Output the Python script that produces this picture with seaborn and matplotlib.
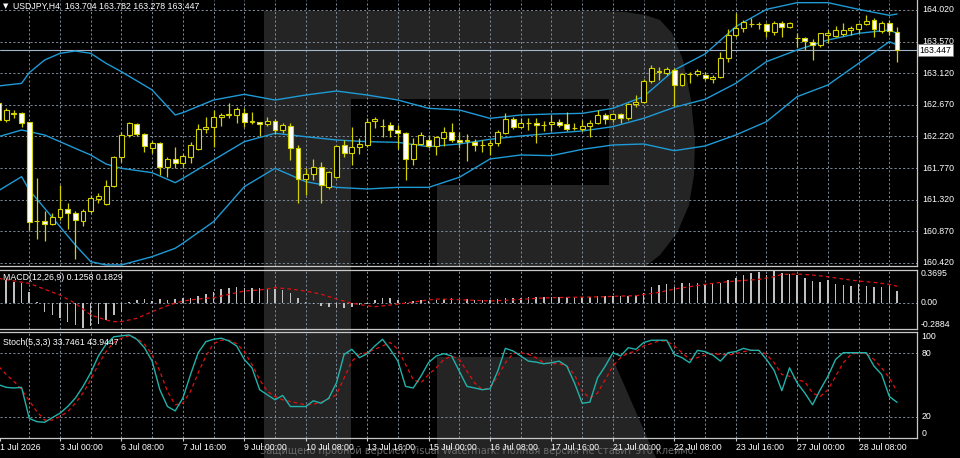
import numpy as np
import pandas as pd
import matplotlib
matplotlib.use('Agg')
import matplotlib.pyplot as plt
from matplotlib.patches import Polygon, Rectangle
import seaborn as sns

sns.set_theme(style='dark')
plt.rcParams['font.family'] = ['Liberation Sans', 'DejaVu Sans']

# ---- candles (H4 bars, bar index 0..117) ----
opens = [162.692, 162.455, 162.540, 162.559, 162.421, 161.017, 161.022, 160.975, 161.079, 161.183,
         161.127, 161.022, 161.164, 161.335, 161.259, 161.515, 161.933, 162.241, 162.398, 162.255,
         162.051, 162.123, 161.781, 161.895, 161.838, 161.933, 162.042, 162.322, 162.360, 162.493,
         162.530, 162.530, 162.559, 162.431, 162.421, 162.398, 162.445, 162.312, 162.369, 162.051,
         161.610, 161.686, 161.781, 161.496, 161.639, 162.094, 161.980, 162.066, 162.099, 162.445,
         162.369, 162.383, 162.312, 162.274, 161.895, 162.113, 162.170, 162.085, 162.203, 162.289,
         162.170, 162.160, 162.146, 162.099, 162.094, 162.132, 162.274, 162.469, 162.350, 162.407,
         162.417, 162.383, 162.398, 162.421, 162.393, 162.336, 162.322, 162.369, 162.407, 162.521,
         162.464, 162.535, 162.478, 162.682, 162.715, 163.014, 163.142, 163.128, 163.166, 162.953,
         163.109, 163.109, 163.095, 163.033, 163.062, 163.332, 163.664, 163.759, 163.821, 163.821,
         163.821, 163.712, 163.840, 163.773, 163.617, 163.617, 163.569, 163.522, 163.664, 163.650,
         163.678, 163.735, 163.745, 163.821, 163.878, 163.726, 163.830, 163.704]
highs = [162.739, 162.621, 162.597, 162.573, 162.431, 161.624, 161.160, 161.127, 161.530, 161.269,
         161.164, 161.183, 161.387, 161.421, 161.601, 161.942, 162.279, 162.431, 162.417, 162.274,
         162.161, 162.146, 161.933, 162.075, 161.971, 162.146, 162.398, 162.493, 162.597, 162.549,
         162.701, 162.635, 162.621, 162.573, 162.421, 162.502, 162.464, 162.407, 162.417, 162.099,
         161.767, 161.895, 161.862, 161.734, 162.099, 162.170, 162.360, 162.194, 162.478, 162.493,
         162.464, 162.421, 162.383, 162.284, 162.194, 162.289, 162.241, 162.227, 162.350, 162.407,
         162.289, 162.255, 162.180, 162.170, 162.170, 162.312, 162.549, 162.502, 162.478, 162.478,
         162.478, 162.445, 162.526, 162.469, 162.573, 162.407, 162.455, 162.455, 162.597, 162.549,
         162.549, 162.549, 162.701, 162.810, 163.033, 163.237, 163.214, 163.214, 163.190, 163.128,
         163.142, 163.175, 163.142, 163.090, 163.427, 163.745, 163.982, 163.878, 163.901, 163.854,
         163.840, 163.868, 163.868, 163.849, 163.688, 163.640, 163.603, 163.697, 163.735, 163.792,
         163.830, 163.792, 163.840, 163.949, 163.901, 163.868, 163.878, 163.782]
lows = [162.431, 162.431, 162.478, 162.360, 160.889, 160.757, 160.738, 160.960, 161.032, 160.899,
        160.472, 160.946, 161.127, 161.269, 161.245, 161.506, 161.862, 162.217, 162.227, 162.004,
        161.990, 161.672, 161.648, 161.767, 161.767, 161.838, 162.028, 162.265, 162.066, 162.369,
        162.478, 162.407, 162.350, 162.398, 162.227, 162.369, 162.255, 162.265, 161.885, 161.269,
        161.387, 161.601, 161.278, 161.468, 161.624, 161.933, 161.814, 161.971, 162.066, 162.336,
        162.217, 162.217, 162.037, 161.601, 161.814, 162.099, 162.051, 161.957, 162.085, 162.146,
        162.051, 161.876, 162.018, 162.004, 161.957, 162.085, 162.255, 162.322, 162.336, 162.312,
        162.123, 162.303, 162.303, 162.360, 162.303, 162.312, 162.303, 162.208, 162.398, 162.398,
        162.431, 162.417, 162.455, 162.644, 162.692, 162.986, 163.024, 163.095, 162.654, 162.938,
        162.986, 163.081, 163.024, 162.976, 163.048, 163.285, 163.640, 163.712, 163.783, 163.745,
        163.631, 163.664, 163.640, 163.759, 163.498, 163.451, 163.308, 163.498, 163.546, 163.640,
        163.650, 163.664, 163.697, 163.806, 163.640, 163.688, 163.664, 163.278]
closes = [162.455, 162.597, 162.559, 162.417, 161.008, 161.017, 160.975, 161.079, 161.183, 161.127,
          161.032, 161.164, 161.340, 161.373, 161.520, 161.923, 162.241, 162.407, 162.255, 162.085,
          162.123, 161.781, 161.895, 161.838, 161.942, 162.099, 162.327, 162.360, 162.502, 162.526,
          162.532, 162.606, 162.431, 162.431, 162.398, 162.445, 162.312, 162.383, 162.051, 161.610,
          161.686, 161.781, 161.530, 161.719, 162.085, 161.980, 162.075, 162.113, 162.431, 162.469,
          162.369, 162.312, 162.274, 161.895, 162.113, 162.241, 162.085, 162.208, 162.289, 162.170,
          162.146, 162.170, 162.094, 162.099, 162.132, 162.289, 162.469, 162.350, 162.407, 162.407,
          162.383, 162.383, 162.431, 162.379, 162.322, 162.336, 162.369, 162.417, 162.521, 162.474,
          162.535, 162.478, 162.682, 162.715, 163.010, 163.190, 163.142, 163.175, 162.953, 163.109,
          163.109, 163.157, 163.048, 163.071, 163.332, 163.664, 163.759, 163.854, 163.821, 163.821,
          163.726, 163.840, 163.773, 163.840, 163.617, 163.584, 163.522, 163.688, 163.688, 163.735,
          163.735, 163.759, 163.821, 163.868, 163.745, 163.840, 163.726, 163.447]

# ---- Bollinger bands, read at these bars ----
band_idx = [0, 3, 4, 6, 8, 10, 12, 14, 16, 20, 23, 24, 28, 32, 36, 40, 44, 48, 52, 56, 60, 64,
            68, 72, 76, 80, 84, 88, 92, 96, 100, 104, 108, 112, 116, 117]
bb_upper = [162.939, 162.976, 163.128, 163.308, 163.403, 163.436, 163.403, 163.261, 163.142, 162.882,
            162.526, 162.559, 162.739, 162.820, 162.739, 162.810, 162.867, 162.810, 162.739, 162.621,
            162.597, 162.478, 162.526, 162.540, 162.549, 162.621, 162.787, 163.166, 163.394, 163.783,
            164.029, 164.124, 164.124, 164.029, 163.944, 163.963]
bb_middle = [162.217, 162.312, 162.289, 162.241, 162.146, 162.051, 161.957, 161.828, 161.767, 161.705,
             161.563, 161.624, 161.885, 162.146, 162.265, 162.217, 162.170, 162.146, 162.137, 162.075,
             162.113, 162.180, 162.227, 162.265, 162.298, 162.360, 162.478, 162.635, 162.749, 162.976,
             163.285, 163.451, 163.593, 163.688, 163.735, 163.688]
bb_lower = [161.449, 161.648, 161.459, 161.198, 160.937, 160.676, 160.439, 160.392, 160.392, 160.510,
            160.629, 160.700, 161.008, 161.506, 161.767, 161.577, 161.496, 161.473, 161.496, 161.496,
            161.639, 161.900, 161.957, 161.947, 162.037, 162.099, 162.113, 162.018, 162.085, 162.241,
            162.431, 162.787, 162.953, 163.261, 163.569, 163.522]

# ---- MACD(12,26,9) ----
macd_hist = [0.250, 0.252, 0.234, 0.215, 0.122, 0.005, -0.100, -0.137, -0.174, -0.211,
             -0.250, -0.285, -0.260, -0.235, -0.193, -0.137, -0.100, 0.003, 0.030, 0.037,
             0.019, 0.037, 0.030, 0.037, 0.048, 0.048, 0.078, 0.093, 0.122, 0.152,
             0.167, 0.178, 0.167, 0.167, 0.160, 0.152, 0.152, 0.141, 0.104, 0.048,
             0.005, -0.019, -0.035, -0.050, -0.060, -0.055, -0.045, -0.030, -0.010, 0.030,
             0.048, 0.056, 0.030, 0.011, 0.019, 0.030, 0.019, 0.030, 0.037, 0.048,
             0.041, 0.037, 0.030, 0.030, 0.030, 0.037, 0.048, 0.056, 0.056, 0.059,
             0.059, 0.059, 0.067, 0.067, 0.067, 0.067, 0.067, 0.067, 0.074, 0.074,
             0.078, 0.078, 0.078, 0.085, 0.104, 0.178, 0.197, 0.204, 0.178, 0.215,
             0.215, 0.215, 0.204, 0.215, 0.215, 0.252, 0.278, 0.308, 0.326, 0.345,
             0.308, 0.350, 0.326, 0.315, 0.308, 0.271, 0.241, 0.226, 0.252, 0.204,
             0.197, 0.189, 0.204, 0.189, 0.178, 0.178, 0.189, 0.1258]
macd_sig_idx = [0, 4, 8, 10, 12, 14, 15, 16, 18, 20, 22, 24, 26, 28, 30, 32, 34, 36, 38, 40,
                42, 44, 46, 48, 49, 51, 53, 55, 57, 59, 61, 64, 66, 68, 70, 72, 74, 77, 79, 81,
                83, 86, 88, 90, 92, 94, 96, 99, 101, 102, 104, 106, 108, 110, 112, 114, 116, 117]
macd_sig = [0.271, 0.215, 0.085, -0.007, -0.137, -0.193, -0.211, -0.211, -0.174, -0.100,
            -0.033, 0.019, 0.041, 0.056, 0.093, 0.130, 0.141, 0.167, 0.152, 0.130,
            0.095, 0.041, -0.007, -0.033, -0.045, -0.026, -0.005, 0.019, 0.041, 0.037,
            0.030, 0.019, 0.026, 0.037, 0.048, 0.056, 0.059, 0.063, 0.067, 0.074,
            0.078, 0.115, 0.152, 0.178, 0.204, 0.226, 0.241, 0.260, 0.289, 0.315,
            0.319, 0.308, 0.289, 0.263, 0.241, 0.226, 0.204, 0.1829]

# ---- Stochastic(5,3,3) ----
stoch_main = [50.3, 47.8, 47.2, 47.8, 18.7, 15.6, 15.0, 19.4, 23.5, 29.8,
              37.7, 48.7, 61.4, 77.2, 88.2, 95.2, 96.1, 97.0, 92.9, 85.0,
              72.4, 45.6, 29.8, 25.7, 37.7, 59.8, 80.3, 90.7, 92.9, 93.9,
              91.3, 86.6, 74.0, 66.1, 45.6, 40.8, 36.1, 40.2, 29.8, 29.8,
              29.8, 35.2, 32.9, 37.7, 51.9, 78.7, 83.5, 75.6, 79.4, 86.6,
              92.9, 83.5, 72.4, 48.7, 47.2, 58.2, 71.1, 77.2, 79.4, 77.2,
              62.9, 48.7, 47.2, 45.6, 46.5, 62.9, 84.4, 81.9, 77.2, 72.4,
              71.5, 69.9, 70.9, 72.4, 67.7, 51.9, 32.9, 33.9, 56.6, 67.7,
              80.3, 77.2, 85.0, 83.5, 89.8, 92.0, 92.0, 92.0, 78.7, 75.6,
              70.9, 82.5, 81.3, 78.1, 72.4, 80.3, 81.3, 84.4, 82.5, 82.5,
              74.0, 63.6, 44.7, 66.1, 51.9, 42.4, 31.4, 45.6, 58.2, 74.0,
              80.3, 80.3, 80.3, 80.3, 67.7, 59.8, 39.2, 33.75]
stoch_sig = [67.6, 59.8, 53.5, 45.6, 35.2, 25.0, 17.1, 17.1, 20.3, 25.0,
             32.9, 42.4, 55.0, 69.3, 81.3, 89.8, 93.9, 96.1, 93.9, 88.2,
             78.7, 62.9, 44.0, 31.4, 32.9, 44.0, 61.4, 77.2, 88.8, 92.0,
             92.0, 88.8, 81.3, 69.3, 55.0, 44.0, 39.2, 36.1, 34.5, 32.9,
             31.4, 32.0, 33.9, 37.0, 40.8, 56.6, 72.4, 78.7, 80.3, 83.5,
             86.6, 89.8, 83.5, 69.3, 55.0, 51.9, 59.8, 66.1, 74.0, 77.2,
             74.0, 62.9, 51.9, 45.6, 47.2, 58.2, 70.9, 79.4, 80.3, 78.7,
             75.6, 70.9, 70.0, 70.0, 67.7, 59.8, 44.0, 37.7, 42.4, 55.0,
             67.7, 75.6, 80.3, 81.3, 86.6, 88.8, 91.3, 91.3, 86.6, 80.3,
             74.0, 75.6, 78.1, 79.4, 78.7, 78.1, 79.4, 81.3, 82.5, 82.5,
             78.7, 70.9, 59.8, 58.2, 55.0, 52.9, 42.4, 39.2, 45.6, 58.2,
             70.9, 78.7, 80.3, 79.4, 74.0, 66.1, 56.6, 43.94]

price_ticks = [164.020, 163.570, 163.120, 162.670, 162.220, 161.770, 161.320, 160.870, 160.420]
last_price = 163.447
time_labels = ['1 Jul 2026', '3 Jul 00:00', '6 Jul 08:00', '7 Jul 16:00', '9 Jul 00:00',
               '10 Jul 08:00', '13 Jul 16:00', '15 Jul 00:00', '16 Jul 08:00', '17 Jul 16:00',
               '21 Jul 00:00', '22 Jul 08:00', '23 Jul 16:00', '27 Jul 00:00', '28 Jul 08:00']

df = pd.DataFrame({'o': opens, 'h': highs, 'l': lows, 'c': closes})
df['i'] = np.arange(len(df))
bull = df['c'] >= df['o']

# ---- layout in pixels ----
W, H = 960, 458
fig = plt.figure(figsize=(W / 100, H / 100), dpi=100, facecolor='black')

def px_axes(x0, y0, x1, y1):
    return fig.add_axes([x0 / W, 1 - y1 / H, (x1 - x0) / W, (y1 - y0) / H])

# watermark behind everything
bg = fig.add_axes([0, 0, 1, 1])
bg.set_xlim(0, W)
bg.set_ylim(H, 0)
bg.axis('off')
bg.set_zorder(-5)
wm = '#242424'
bg.add_patch(Rectangle((264, 11), 87, 447, color=wm, lw=0))
bg.add_patch(Polygon([(351, 11), (600, 11), (625, 12), (645, 15), (660, 20), (672, 33), (683, 60),
                      (691, 100), (695, 140), (694, 175), (689, 205), (677, 233), (660, 255),
                      (645, 267), (437, 267), (437, 185), (609, 185), (609, 99), (351, 99)],
                     closed=True, color=wm, lw=0))
bg.add_patch(Polygon([(437, 357), (612, 357), (656, 458), (437, 458)], closed=True, color=wm, lw=0))
bg.text(260, 451, 'Защищено пробной версией Visual Watermark. Полная версия не ставит это клеймо.',
        color='#6a6a6a', fontsize=7, va='center', ha='left', family=['DejaVu Sans'])

ax = px_axes(0, 0, 917, 266)
axm = px_axes(0, 269.5, 917, 328.6)
axs = px_axes(0, 331.7, 917, 438.3)

grid_kw = dict(color='#7d8a99', lw=0.7, dashes=(2.2, 2.2), zorder=0.5)
txt_kw = dict(color='white', fontsize=6.3)
frame = '#c8c8c8'
yel = '#d2d200'

for a in (ax, axm, axs):
    a.set_facecolor('none')
    a.set_zorder(1)
    a.set_xlim(0.19, 119.6)
    a.set_xticks([])
    a.set_yticks([])
    a.grid(False)
    for s in a.spines.values():
        s.set_color(frame)
        s.set_linewidth(0.9)
    a.spines['left'].set_visible(False)
    for g in range(4, 118, 4):
        a.axvline(g, **grid_kw)

ax.spines['top'].set_visible(False)

# ---- main price panel ----
ax.set_ylim(160.377, 164.162)
for p in price_ticks:
    ax.axhline(p, **grid_kw)
    ax.text(1.0055, p, f'{p:.3f}', transform=ax.get_yaxis_transform(), va='center', ha='left',
            clip_on=False, **txt_kw)

for band in (bb_upper, bb_middle, bb_lower):
    sns.lineplot(x=band_idx, y=band, ax=ax, color='#1e9ad6', lw=1.0, legend=False, zorder=2)

ax.axhline(last_price, color='#a3b5c9', lw=0.8, zorder=1.5)

ax.vlines(df['i'], df['l'], df['h'], color=yel, lw=0.9, zorder=3)
body_bottom = df[['o', 'c']].min(axis=1)
body_height = (df['c'] - df['o']).abs().clip(lower=0.003)
ax.bar(df['i'], body_height, bottom=body_bottom, width=0.64,
       color=np.where(bull, 'black', 'white'), edgecolor=yel, linewidth=0.8, zorder=4)

ax.text(1.003, last_price, f'{last_price:.3f}', transform=ax.get_yaxis_transform(), va='center',
        ha='left', clip_on=False, color='black', fontsize=6.3, zorder=6,
        bbox=dict(boxstyle='square,pad=0.15', facecolor='white', edgecolor='#808080', lw=0.5))
ax.text(3 / 917, 1 - 6 / 266, '▼', transform=ax.transAxes, va='center', ha='left',
        color='white', fontsize=5, family=['DejaVu Sans'])
ax.text(13 / 917, 1 - 6 / 266, 'USDJPY,H4  163.704 163.782 163.278 163.447',
        transform=ax.transAxes, va='center', ha='left', **txt_kw)

# ---- MACD panel ----
axm.set_ylim(-0.2884, 0.3695)
axm.axhline(0, **grid_kw)
axm.bar(df['i'], macd_hist, width=0.2, color='#c0c0c0', linewidth=0, edgecolor='none', zorder=2)
sns.lineplot(x=macd_sig_idx, y=macd_sig, ax=axm, color='#e01010', lw=0.9,
             linestyle=(0, (3, 2.5)), legend=False, zorder=3)
axm.text(3 / 917, 0.87, 'MACD(12,26,9) 0.1258 0.1829', transform=axm.transAxes,
         va='center', ha='left', **txt_kw)
for v, lab, va in [(0.3695, '0.3695', 'top'), (0.0, '0.00', 'center'), (-0.2884, '-0.2884', 'bottom')]:
    axm.text(1.0035, v, lab, transform=axm.get_yaxis_transform(), va=va, ha='left',
             clip_on=False, **txt_kw)

# ---- Stochastic panel ----
axs.set_ylim(0, 100)
for lvl in (20, 80):
    axs.axhline(lvl, **grid_kw)
sns.lineplot(x=df['i'], y=stoch_main, ax=axs, color='#20b2aa', lw=1.0, legend=False, zorder=3)
sns.lineplot(x=df['i'], y=stoch_sig, ax=axs, color='#e01010', lw=0.9,
             linestyle=(0, (3, 2.5)), legend=False, zorder=2.5)
axs.text(3 / 917, 0.9, 'Stoch(5,3,3) 33.7461 43.9447', transform=axs.transAxes,
         va='center', ha='left', **txt_kw)
for v, lab, va in [(100, '100', 'top'), (80, '80', 'center'), (20, '20', 'center'), (0, '0', 'bottom')]:
    axs.text(1.005, v, lab, transform=axs.get_yaxis_transform(), va=va, ha='left',
             clip_on=False, **txt_kw)

# time axis
tick_pos = [0.25] + [8 * k for k in range(1, len(time_labels))]
axs.set_xticks(tick_pos)
axs.set_xticklabels([])
axs.tick_params(axis='x', direction='out', length=2.5, width=0.8, color=frame, bottom=True)
for pos, lab in zip(tick_pos, time_labels):
    axs.text(pos, -0.09, lab, transform=axs.get_xaxis_transform(), va='center', ha='left',
             clip_on=False, **txt_kw)

for a in (ax, axm, axs):
    a.set_xlabel('')
    a.set_ylabel('')
    a.set_xlim(0.19, 119.6)

fig.savefig('out.png', dpi=100, facecolor='black')
